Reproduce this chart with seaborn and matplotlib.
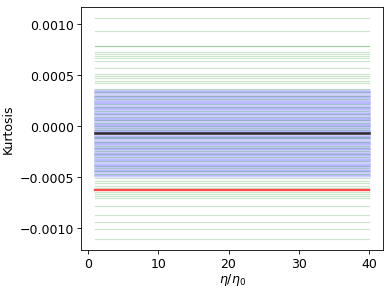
import numpy as np
import pandas as pd
import matplotlib
matplotlib.use('Agg')
import matplotlib.pyplot as plt
from matplotlib.ticker import MultipleLocator
import seaborn as sns

# --- DATA ---
eta = np.arange(1, 41)  # eta / eta_0 grid

# green ensemble (wide spread)
green_kurt = [
    0.001066, 0.00093, 0.00079, 0.000785, 0.000729, 0.000709, 0.000686,
    0.000666, 0.000644, 0.000576, 0.000517, 0.000498, 0.000471, 0.000449,
    0.000426, 0.000368,
    0.000335, 0.000298, 0.00027, 0.000224, 0.000185, 0.00015, 0.00012,
    0.00009, 0.00006, 0.000029, 0.0, -0.00002, -0.00004, -0.0001,
    -0.000117, -0.000156, -0.00019, -0.000215, -0.00024, -0.000273,
    -0.0003, -0.000341, -0.00039, -0.00041, -0.00044, -0.00047,
    -0.00051, -0.000534, -0.000556, -0.000582, -0.000605, -0.000641,
    -0.000663, -0.000686, -0.000705, -0.000778, -0.000868, -0.000934,
    -0.001005, -0.001105,
]

# blue ensemble (narrow band)
blue_kurt = [
    0.00036, 0.00035, 0.00034, 0.00033, 0.00031, 0.00030, 0.00029, 0.00028,
    0.00026, 0.00025, 0.00024, 0.00023, 0.00022, 0.00020, 0.00019, 0.00018,
    0.00017, 0.00016, 0.00014, 0.00013, 0.00012, 0.00011, 0.00009, 0.00008,
    0.00007, 0.00006, 0.00005, 0.00003, 0.00002, 0.00001, 0.00000, -0.00001,
    -0.00003, -0.00004, -0.00005, -0.00006, -0.00008, -0.00009, -0.00010,
    -0.00011, -0.00012, -0.00014, -0.00015, -0.00016, -0.00017, -0.00018,
    -0.00020, -0.00021, -0.00022, -0.00023, -0.00025, -0.00026, -0.00027,
    -0.00028, -0.00029, -0.00031, -0.00032, -0.00033, -0.00034, -0.00036,
    -0.00037, -0.00038, -0.00039, -0.00040, -0.00042, -0.00043, -0.00044,
    -0.00045, -0.00047, -0.00048, -0.00049,
]

mean_kurt = -0.00007   # black line
ref_kurt = -0.00062    # red line


def to_long(values, group):
    rows = []
    for i, v in enumerate(values):
        for e in eta:
            rows.append((group, i, e, v))
    return pd.DataFrame(rows, columns=['group', 'line', 'eta', 'kurt'])


df_green = to_long(green_kurt, 'green')
df_blue = to_long(blue_kurt, 'blue')
df_mean = to_long([mean_kurt], 'mean')
df_ref = to_long([ref_kurt], 'ref')

plt.rcParams['font.size'] = 12
fig, ax = plt.subplots(figsize=(5.2, 3.9), dpi=75)

sns.lineplot(data=df_blue, x='eta', y='kurt', units='line', estimator=None,
             color='b', alpha=0.11, lw=2.5, ax=ax)
sns.lineplot(data=df_green, x='eta', y='kurt', units='line', estimator=None,
             color='g', alpha=0.2, lw=1.2, ax=ax)
sns.lineplot(data=df_ref, x='eta', y='kurt', units='line', estimator=None,
             color='r', alpha=0.7, lw=2.2, ax=ax)
sns.lineplot(data=df_mean, x='eta', y='kurt', units='line', estimator=None,
             color='k', alpha=0.8, lw=2.5, ax=ax)

ax.xaxis.set_major_locator(MultipleLocator(10))
ax.set_xlabel(r'$\eta/\eta_0$', labelpad=1)
ax.set_ylabel('Kurtosis')

fig.subplots_adjust(left=0.208, right=0.982, top=0.976, bottom=0.143)
plt.savefig('out.png', dpi=75)
